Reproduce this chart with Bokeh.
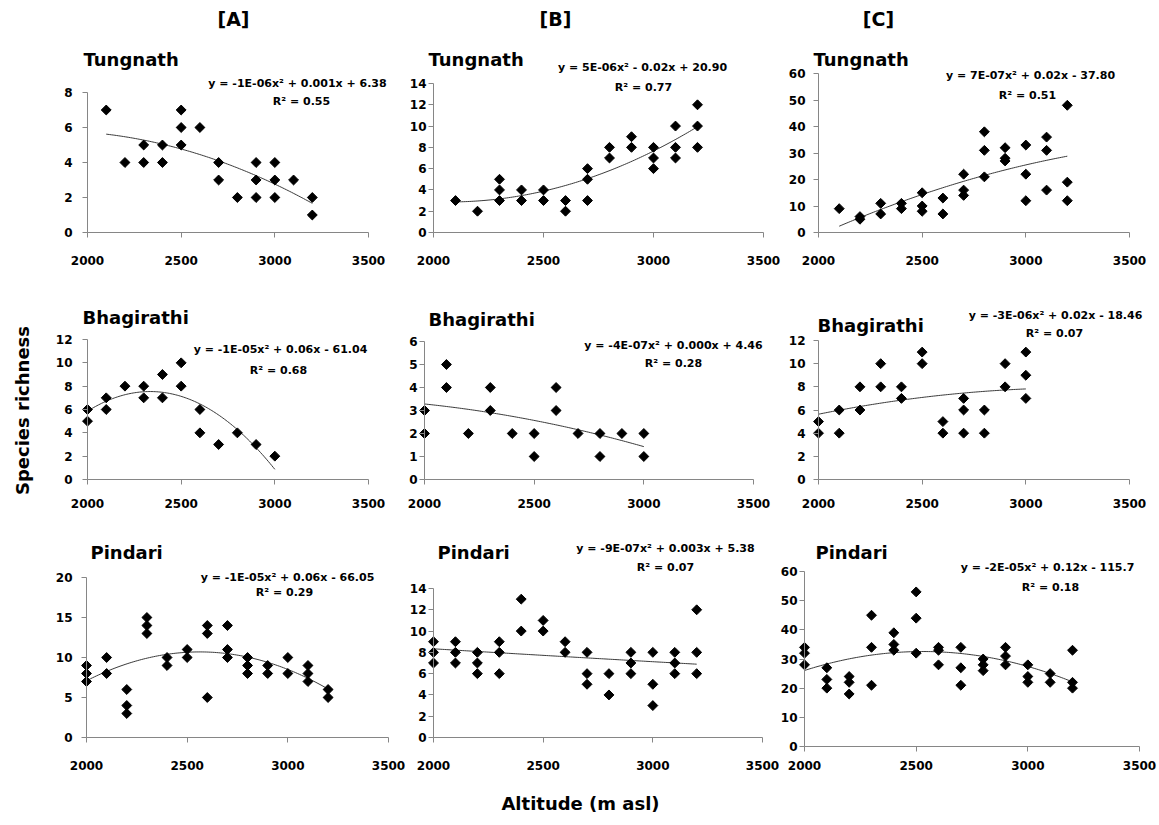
import numpy as np
from bokeh.plotting import figure
from bokeh.models import Range1d, FixedTicker, Label
from bokeh.layouts import row, column
from bokeh.embed import file_html
from bokeh.resources import INLINE
from bokeh.core.properties import value

FONT = "DejaVu Sans"
AXIS_GRAY = "#868686"

# ---------------- data (altitude in m asl, species richness) ----------------
alt_ticks = [2000, 2500, 3000, 3500]
col_heads = ["[A]", "[B]", "[C]"]
site_names = ["Tungnath", "Bhagirathi", "Pindari"]

tung_a_x = [2100, 2200, 2300, 2300, 2400, 2400, 2500, 2500, 2500, 2600, 2700, 2700,
            2800, 2900, 2900, 2900, 3000, 3000, 3000, 3100, 3200, 3200]
tung_a_y = [7, 4, 5, 4, 5, 4, 7, 6, 5, 6, 4, 3, 2, 4, 3, 2, 4, 3, 2, 3, 2, 1]

tung_b_x = [2100, 2200, 2300, 2300, 2300, 2400, 2400, 2500, 2500, 2600, 2600,
            2700, 2700, 2700, 2800, 2800, 2900, 2900, 3000, 3000, 3000,
            3100, 3100, 3100, 3200, 3200, 3200]
tung_b_y = [3, 2, 5, 4, 3, 4, 3, 4, 3, 3, 2, 6, 5, 3, 8, 7, 9, 8, 8, 7, 6,
            10, 8, 7, 12, 10, 8]

tung_c_x = [2100, 2200, 2200, 2300, 2300, 2400, 2400, 2500, 2500, 2500, 2600, 2600,
            2700, 2700, 2700, 2800, 2800, 2800, 2900, 2900, 2900, 3000, 3000, 3000,
            3100, 3100, 3100, 3200, 3200, 3200]
tung_c_y = [9, 6, 5, 11, 7, 11, 9, 15, 10, 8, 13, 7, 22, 16, 14, 38, 31, 21,
            32, 28, 27, 33, 22, 12, 36, 31, 16, 48, 19, 12]

bhag_a_x = [2000, 2000, 2100, 2100, 2200, 2300, 2300, 2400, 2400, 2500, 2500,
            2600, 2600, 2700, 2800, 2900, 3000]
bhag_a_y = [6, 5, 7, 6, 8, 8, 7, 9, 7, 10, 8, 6, 4, 3, 4, 3, 2]

bhag_b_x = [2000, 2000, 2100, 2100, 2200, 2300, 2300, 2400, 2500, 2500, 2600, 2600,
            2700, 2800, 2800, 2900, 3000, 3000]
bhag_b_y = [3, 2, 5, 4, 2, 4, 3, 2, 2, 1, 4, 3, 2, 2, 1, 2, 2, 1]

bhag_c_x = [2000, 2000, 2100, 2100, 2200, 2200, 2300, 2300, 2400, 2400, 2500, 2500,
            2600, 2600, 2700, 2700, 2700, 2800, 2800, 2900, 2900, 3000, 3000, 3000]
bhag_c_y = [5, 4, 6, 4, 8, 6, 10, 8, 8, 7, 11, 10, 5, 4, 7, 6, 4, 6, 4, 10, 8, 11, 9, 7]

pind_a_x = [2000, 2000, 2000, 2100, 2100, 2200, 2200, 2200, 2300, 2300, 2300,
            2400, 2400, 2500, 2500, 2600, 2600, 2600, 2700, 2700, 2700,
            2800, 2800, 2800, 2900, 2900, 3000, 3000, 3100, 3100, 3100, 3200, 3200]
pind_a_y = [9, 8, 7, 10, 8, 6, 4, 3, 15, 14, 13, 10, 9, 11, 10, 14, 13, 5, 14, 11, 10,
            10, 9, 8, 9, 8, 10, 8, 9, 8, 7, 6, 5]

pind_b_x = [2000, 2000, 2000, 2100, 2100, 2100, 2200, 2200, 2200, 2300, 2300, 2300,
            2400, 2400, 2500, 2500, 2600, 2600, 2700, 2700, 2700, 2800, 2800,
            2900, 2900, 2900, 3000, 3000, 3000, 3100, 3100, 3100, 3200, 3200, 3200]
pind_b_y = [9, 8, 7, 9, 8, 7, 8, 7, 6, 9, 8, 6, 13, 10, 11, 10, 9, 8, 8, 6, 5, 6, 4,
            8, 7, 6, 8, 5, 3, 8, 7, 6, 12, 8, 6]

pind_c_x = [2000, 2000, 2000, 2100, 2100, 2100, 2200, 2200, 2200, 2300, 2300, 2300,
            2400, 2400, 2400, 2500, 2500, 2500, 2600, 2600, 2600, 2700, 2700, 2700,
            2800, 2800, 2800, 2900, 2900, 2900, 3000, 3000, 3000, 3100, 3100,
            3200, 3200, 3200]
pind_c_y = [34, 32, 28, 27, 23, 20, 24, 22, 18, 45, 34, 21, 39, 35, 33, 53, 44, 32,
            34, 33, 28, 34, 27, 21, 30, 28, 26, 34, 31, 28, 28, 24, 22, 25, 22,
            33, 22, 20]

ticks_a1 = [0, 2, 4, 6, 8]
ticks_b1 = [0, 2, 4, 6, 8, 10, 12, 14]
ticks_c1 = [0, 10, 20, 30, 40, 50, 60]
ticks_a2 = [0, 2, 4, 6, 8, 10, 12]
ticks_b2 = [0, 1, 2, 3, 4, 5, 6]
ticks_c2 = [0, 2, 4, 6, 8, 10, 12]
ticks_a3 = [0, 5, 10, 15, 20]
ticks_b3 = [0, 2, 4, 6, 8, 10, 12, 14]
ticks_c3 = [0, 10, 20, 30, 40, 50, 60]

eq_text = [
    "y = -1E-06x² + 0.001x + 6.38", "y = 5E-06x² - 0.02x + 20.90", "y = 7E-07x² + 0.02x - 37.80",
    "y = -1E-05x² + 0.06x - 61.04", "y = -4E-07x² + 0.000x + 4.46", "y = -3E-06x² + 0.02x - 18.46",
    "y = -1E-05x² + 0.06x - 66.05", "y = -9E-07x² + 0.003x + 5.38", "y = -2E-05x² + 0.12x - 115.7",
]
r2_text = ["R² = 0.55", "R² = 0.77", "R² = 0.51",
           "R² = 0.68", "R² = 0.28", "R² = 0.07",
           "R² = 0.29", "R² = 0.07", "R² = 0.18"]

# ---------------- layout (pixel geometry, page coords) ----------------
# cell = (left, top, right, bottom); ax = (x@2000, x@3500, y@0, y@ymax)
specs = [
    dict(x=tung_a_x, y=tung_a_y, t=ticks_a1, cell=(50, 0, 400, 290), ax=(87, 368, 232, 92),
         tpos=(83, 59), epos=(297, 83), rpos=(301, 101), ystand=10, xlab=262, head=(233, 18)),
    dict(x=tung_b_x, y=tung_b_y, t=ticks_b1, cell=(400, 0, 783, 290), ax=(433, 763, 232, 83),
         tpos=(428, 59), epos=(642, 67), rpos=(643, 87), ystand=2, xlab=262, head=(555, 18)),
    dict(x=tung_c_x, y=tung_c_y, t=ticks_c1, cell=(783, 0, 1158, 290), ax=(818, 1129, 232, 73),
         tpos=(813, 59), epos=(1030, 75), rpos=(1027, 95), ystand=8, xlab=262, head=(878, 18)),
    dict(x=bhag_a_x, y=bhag_a_y, t=ticks_a2, cell=(50, 290, 400, 520), ax=(87, 368, 479, 339),
         tpos=(82, 317), epos=(280, 349), rpos=(278, 370), ystand=10, xlab=505, head=None),
    dict(x=bhag_b_x, y=bhag_b_y, t=ticks_b2, cell=(400, 290, 783, 520), ax=(424, 753, 479, 341),
         tpos=(428, 319), epos=(673, 345), rpos=(673, 363), ystand=2, xlab=505, head=None),
    dict(x=bhag_c_x, y=bhag_c_y, t=ticks_c2, cell=(783, 290, 1158, 520), ax=(818, 1129, 479, 340),
         tpos=(817, 325), epos=(1055, 315), rpos=(1054, 333), ystand=8, xlab=505, head=None),
    dict(x=pind_a_x, y=pind_a_y, t=ticks_a3, cell=(50, 520, 407, 780), ax=(86, 388, 737, 577),
         tpos=(90, 552), epos=(287, 577), rpos=(284, 592), ystand=9, xlab=767, head=None),
    dict(x=pind_b_x, y=pind_b_y, t=ticks_b3, cell=(407, 520, 779, 780), ax=(433, 762, 737, 588),
         tpos=(437, 552), epos=(665, 548), rpos=(665, 567), ystand=2, xlab=767, head=None),
    dict(x=pind_c_x, y=pind_c_y, t=ticks_c3, cell=(779, 520, 1158, 780), ax=(804, 1139, 746, 571),
         tpos=(815, 552), epos=(1047, 567), rpos=(1050, 587), ystand=2, xlab=767, head=None),
]


def make_panel(i, s):
    cl, ct, cr, cb = s["cell"]
    axl, axr, y0, ytop = s["ax"]
    ymax = s["t"][-1]
    kx = (alt_ticks[-1] - alt_ticks[0]) / (axr - axl)
    ky = ymax / (y0 - ytop)

    def dx(px):
        return alt_ticks[0] + (px - axl) * kx

    def dy(py):
        return (y0 - py) * ky

    p = figure(width=cr - cl, height=cb - ct, output_backend="svg", toolbar_location=None,
               x_range=Range1d(dx(cl), dx(cr)), y_range=Range1d(dy(cb), dy(ct)),
               min_border=0)
    p.outline_line_color = None
    p.background_fill_color = "white"
    p.border_fill_color = "white"
    p.grid.visible = False

    for ax in (p.xaxis[0], p.yaxis[0]):
        ax.axis_line_color = AXIS_GRAY
        ax.major_tick_line_color = AXIS_GRAY
        ax.major_tick_in = 0
        ax.major_tick_out = 5
        ax.minor_tick_line_color = None
        ax.major_label_text_font = FONT
        ax.major_label_text_font_style = "bold"
        ax.major_label_text_font_size = "12px"
        ax.major_label_text_color = "black"

    p.xaxis.ticker = FixedTicker(ticks=alt_ticks)
    p.xaxis.bounds = (alt_ticks[0], alt_ticks[-1])
    p.xaxis.fixed_location = 0
    p.xaxis.major_label_standoff = max(0, s["xlab"] - y0 - 5 - 7)

    p.yaxis.ticker = FixedTicker(ticks=s["t"])
    p.yaxis.bounds = (0, ymax)
    p.yaxis.fixed_location = alt_ticks[0]
    p.yaxis.major_label_standoff = s["ystand"]

    # quadratic trend line (least squares on the points)
    coef = np.polyfit(s["x"], s["y"], 2)
    xf = np.linspace(min(s["x"]), max(s["x"]), 120)
    p.line(xf, np.polyval(coef, xf), line_color="#3a3a3a", line_width=1)

    p.scatter(s["x"], s["y"], marker="square", size=7, angle=np.pi / 4,
              fill_color="black", line_color="black")

    row_i, col_i = divmod(i, 3)
    tx, ty = s["tpos"]
    p.add_layout(Label(x=dx(tx), y=dy(ty), text=site_names[row_i], text_font=FONT,
                       text_font_style="bold", text_font_size="18px", text_color="black",
                       text_align="left", text_baseline="middle"))
    ex, ey = s["epos"]
    p.add_layout(Label(x=dx(ex), y=dy(ey), text=eq_text[i], text_font=FONT,
                       text_font_style="bold", text_font_size="11px", text_color="black",
                       text_align="center", text_baseline="middle"))
    rx, ry = s["rpos"]
    p.add_layout(Label(x=dx(rx), y=dy(ry), text=r2_text[i], text_font=FONT,
                       text_font_style="bold", text_font_size="11px", text_color="black",
                       text_align="center", text_baseline="middle"))
    if s["head"] is not None:
        hx, hy = s["head"]
        p.add_layout(Label(x=dx(hx), y=dy(hy), text=col_heads[col_i], text_font=FONT,
                           text_font_style="bold", text_font_size="19px", text_color="black",
                           text_align="center", text_baseline="middle"))
    return p


panels = [make_panel(i, s) for i, s in enumerate(specs)]

TOTAL_H = 824
# left strip: y-axis title
ylab = figure(width=50, height=TOTAL_H, output_backend="svg", toolbar_location=None,
              x_range=Range1d(0, 50), y_range=Range1d(0, TOTAL_H), min_border=0)
ylab.axis.visible = False
ylab.grid.visible = False
ylab.outline_line_color = None
ylab.text(x=[22], y=[TOTAL_H - 410], text=["Species richness"], angle=np.pi / 2,
          text_font=value(FONT), text_font_style="bold", text_font_size="18px",
          text_align="center", text_baseline="middle", text_color="black")

# bottom strip: x-axis title
XL_H = TOTAL_H - 780
xlab = figure(width=1108, height=XL_H, output_backend="svg", toolbar_location=None,
              x_range=Range1d(0, 1108), y_range=Range1d(0, XL_H), min_border=0)
xlab.axis.visible = False
xlab.grid.visible = False
xlab.outline_line_color = None
xlab.text(x=[580 - 50], y=[XL_H - 23], text=["Altitude (m asl)"],
          text_font=value(FONT), text_font_style="bold", text_font_size="18px",
          text_align="center", text_baseline="middle", text_color="black")

layout = row(ylab,
             column(row(*panels[0:3]), row(*panels[3:6]), row(*panels[6:9]), xlab))

open("out.html", "w").write(file_html(layout, INLINE))
